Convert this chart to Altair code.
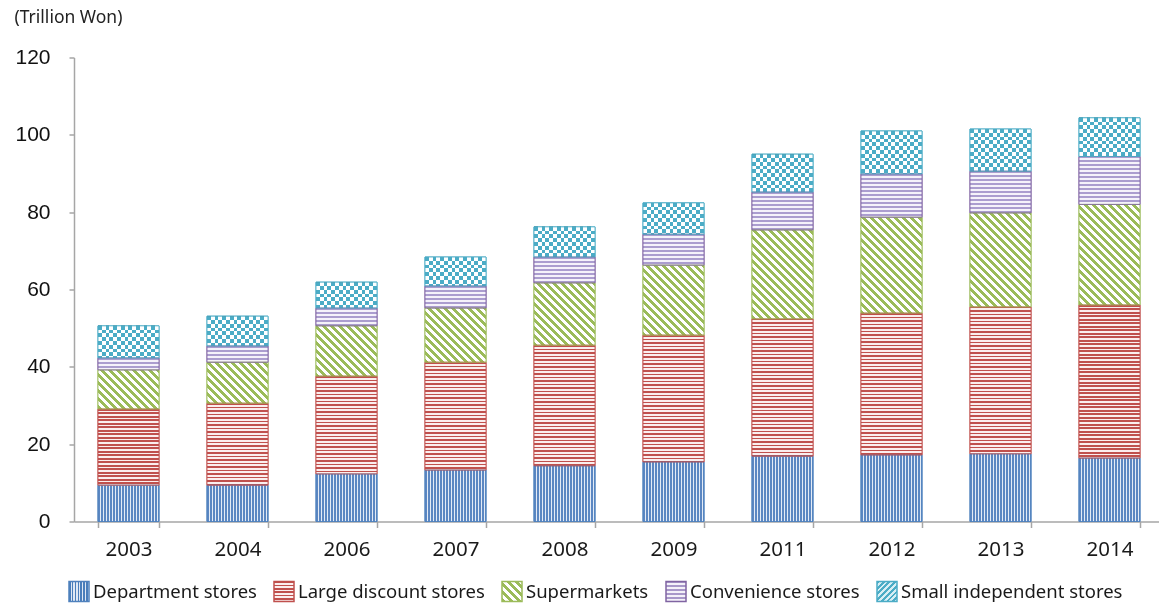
import json
import math
import altair as alt

# ---------------- data ----------------
years = ["2003", "2004", "2006", "2007", "2008", "2009", "2011", "2012", "2013", "2014"]
series_names = ["Department stores", "Large discount stores", "Supermarkets",
                "Convenience stores", "Small independent stores"]
dept = [9.4, 9.4, 12.3, 13.3, 14.4, 15.4, 16.9, 17.2, 17.5, 16.4]
large = [19.7, 21.2, 25.3, 27.9, 31.2, 32.8, 35.5, 36.7, 38.0, 39.6]
supermarkets = [10.1, 10.6, 13.0, 14.0, 16.1, 18.1, 23.0, 24.8, 24.3, 26.0]
convenience = [3.1, 4.2, 4.6, 5.7, 6.7, 8.0, 9.8, 11.2, 10.8, 12.4]
small = [8.3, 7.7, 6.7, 7.5, 7.8, 8.1, 9.8, 11.1, 10.9, 10.0]
y_ticks = [0, 20, 40, 60, 80, 100, 120]

values_by_series = [dept, large, supermarkets, convenience, small]
line_colors = ["#4f81bd", "#c0504d", "#9bbb59", "#8064a2", "#4bacc6"]

# ---------------- layout / pattern styling ----------------
PLOT_W = 1085
PLOT_H = 464
Y_MAX = 120
STEP = 109.0
BAR_W = 61.0
OUTER_PX = 24.0
PAD_INNER = (STEP - BAR_W) / STEP
PAD_OUTER = (PLOT_W / STEP - len(years) + PAD_INNER) / 2
ALIGN = OUTER_PX / (PLOT_W - STEP * (len(years) - PAD_INNER))
PX_PER_UNIT = PLOT_H / Y_MAX
CHECK = 7.6  # checker period in px


def stripe_stops(n, duty, c_line, c_gap):
    stops = []
    i = 0
    while i / n < 1:
        a = i / n
        b = min((i + duty) / n, 1.0)
        c = min((i + 1) / n, 1.0)
        stops += [(a, c_line), (b, c_line)]
        if b < 1:
            stops += [(b, c_gap), (c, c_gap)]
        i += 1
    return [{"offset": round(o, 5), "color": col} for o, col in stops]


def grad_vertical(n, duty, cl, cg):
    return {"gradient": "linear", "x1": 0, "y1": 0, "x2": 1, "y2": 0,
            "stops": stripe_stops(n, duty, cl, cg)}


def grad_horizontal(n, duty, cl, cg):
    return {"gradient": "linear", "x1": 0, "y1": 0, "x2": 0, "y2": 1,
            "stops": stripe_stops(n, duty, cl, cg)}


def grad_diag(w, h, period_x, duty, cl, cg):
    s = (w + h) * w / (w * w + h * h)
    n = (w + h) / period_x
    return {"gradient": "linear", "x1": 0, "y1": 1, "x2": round(s, 5),
            "y2": round(1 - s * h / w, 5), "stops": stripe_stops(n, duty, cl, cg)}


def pattern_for(j, w, h):
    if j == 0:
        return grad_vertical(w / 3.0, 2.0 / 3.0, "#5b87c2", "#e3ebf6")
    if j == 1:
        return grad_horizontal(h / 3.5, 0.45, "#c0504d", "#fbeeee")
    if j == 2:
        return grad_diag(w, h, 8.0, 0.5, "#9bbb59", "#ffffff")
    if j == 3:
        return grad_horizontal(h / 4.0, 0.5, "#ab9dcf", "#f5f2fa")
    return grad_vertical(w / CHECK, 0.5, "#000000", "#ffffff")


rows = []
for i, yr in enumerate(years):
    for j, s in enumerate(series_names):
        v = values_by_series[j][i]
        h = v * PX_PER_UNIT
        row = {"year": yr, "series": s, "order": j, "value": v,
               "grad": pattern_for(j, BAR_W, h), "line": line_colors[j]}
        if j == 4:
            row["grad2"] = grad_horizontal(h / CHECK, 0.5, "#000000", "#ffffff")
        rows.append(row)

legend_grads = [
    grad_vertical(7, 0.55, "#4a7ebb", "#dfe8f4"),
    grad_horizontal(6, 0.45, "#c0504d", "#fbeeee"),
    grad_diag(20, 20, 8.0, 0.5, "#9bbb59", "#ffffff"),
    grad_horizontal(5, 0.5, "#a898c9", "#f4f1f9"),
    {"gradient": "linear", "x1": 0, "y1": 0, "x2": 1, "y2": 1,
     "stops": stripe_stops(7, 0.5, "#4bacc6", "#d7eef4")},
]

data = alt.Data(values=rows)

x_enc = alt.X("year:N", sort=years,
              scale=alt.Scale(paddingInner=PAD_INNER, paddingOuter=PAD_OUTER, align=ALIGN),
              axis=alt.Axis(title=None, labelAngle=0, tickBand="extent", tickSize=6,
                            labelPadding=12, labelFont="Noto Sans", labelFontSize=20.5,
                            labelColor="#1a1a1a", domainColor="#a6a6a6", tickColor="#a6a6a6",
                            domainWidth=1.5, tickWidth=1.5))
y_enc = alt.Y("y0:Q", scale=alt.Scale(domain=[0, Y_MAX], nice=False),
              axis=alt.Axis(values=y_ticks, grid=False, tickSize=5, labelPadding=19,
                            labelFont="Liberation Sans", labelFontSize=21, labelColor="#111111",
                            domainColor="#a6a6a6", tickColor="#a6a6a6", domainWidth=1.5,
                            tickWidth=1.5,
                            title="(Trillion Won)", titleAngle=0, titleX=-60, titleY=-40,
                            titleAlign="left", titleBaseline="middle", titleFont="Noto Sans",
                            titleFontSize=17.5, titleFontWeight="normal", titleColor="#222222"))
y2_enc = alt.Y2("y1:Q")

base = alt.Chart(data).encode(x=x_enc, y=y_enc, y2=y2_enc)

legend_def = alt.Legend(title=None, orient="none", legendX=-6, legendY=523,
                        direction="horizontal", columns=5, symbolType="square",
                        symbolSize=400, symbolStrokeWidth=1.5, labelFont="Noto Sans",
                        labelFontSize=18.5, labelColor="#1a1a1a", labelOffset=3,
                        columnPadding=14, labelLimit=400, padding=0)

legend_layer = base.mark_bar().encode(
    fill=alt.Fill("series:N", scale=alt.Scale(
        domain=series_names, range=[{"expr": json.dumps(g)} for g in legend_grads]),
        legend=legend_def),
    stroke=alt.Stroke("series:N", scale=alt.Scale(domain=series_names, range=line_colors),
                      legend=legend_def),
)

pattern_layer = base.mark_bar().encode(fill=alt.Fill("grad:N", scale=None, legend=None))

is_small = alt.datum.series == series_names[4]
checker_diff = base.mark_bar(blend="difference").encode(
    fill=alt.Fill("grad2:N", scale=None, legend=None)).transform_filter(is_small)
checker_tint = base.mark_bar(blend="screen", color=line_colors[4]).transform_filter(is_small)

outline = base.mark_bar(filled=False, strokeWidth=1, strokeOpacity=0.85).encode(
    stroke=alt.Stroke("line:N", scale=None, legend=None))

chart = alt.layer(legend_layer, pattern_layer, checker_diff, checker_tint, outline).transform_stack(
    stack="value", groupby=["year"], as_=["y0", "y1"], sort=[alt.SortField("order", order="ascending")]
).resolve_scale(fill="independent", stroke="independent").properties(
    width=PLOT_W, height=PLOT_H,
    autosize=alt.AutoSizeParams(type="none"),
    padding={"left": 74, "top": 57.5, "right": 0, "bottom": 83.5},
).configure(background="white").configure_view(stroke=None)

chart.save("out.html", embed_options={"renderer": "svg", "actions": False})
